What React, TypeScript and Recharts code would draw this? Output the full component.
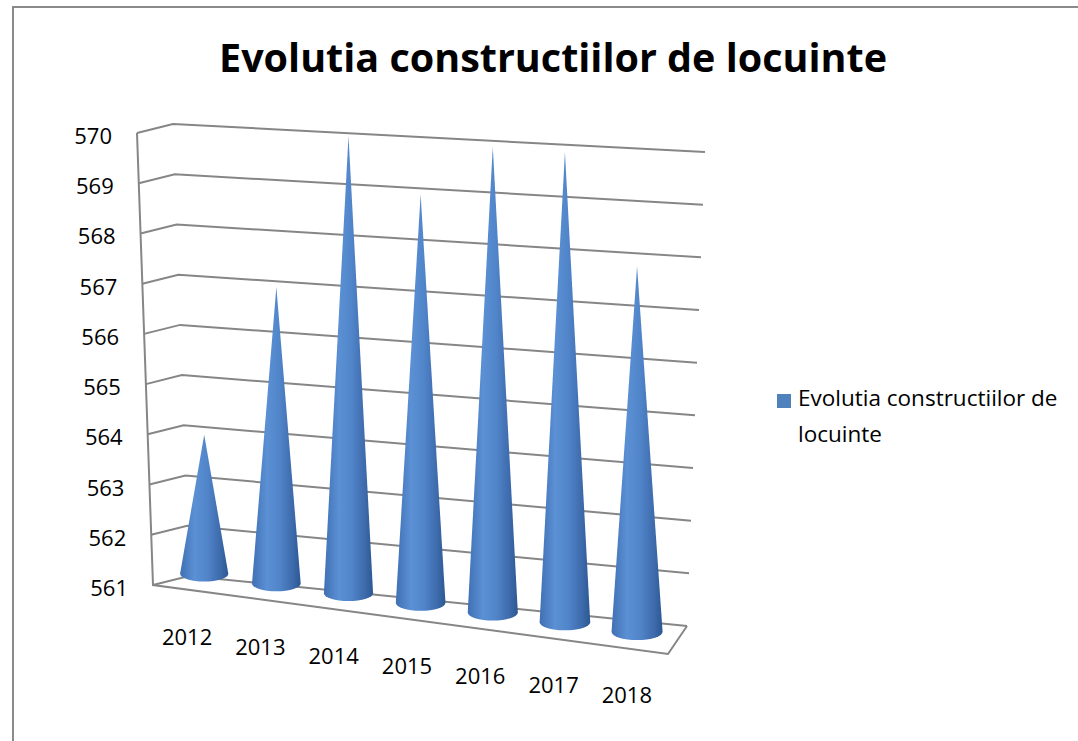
import React from 'react';
import { BarChart, Bar, XAxis, YAxis, CartesianGrid } from 'recharts';

// ---- data ----
const categories = ['2012', '2013', '2014', '2015', '2016', '2017', '2018'];
const values = [563.7, 566.7, 569.7, 568.7, 569.7, 569.7, 567.7];
const yTicks = [561, 562, 563, 564, 565, 566, 567, 568, 569, 570];
const seriesName = 'Evolutia constructiilor de locuinte';
const chartTitle = 'Evolutia constructiilor de locuinte';

const data = categories.map((c, i) => ({ year: c, value: values[i] }));

// ---- layout / style constants ----
const W = 1078;
const H = 741;
const PLOT_LEFT = 168;
const PLOT_RIGHT = 673;
const PLOT_TOP = 133;
const PLOT_BOTTOM = 585;
const YAXIS_W = 60;
const XAXIS_H = 60;
const EDGE_X_TOP = 137;
const EDGE_X_BOTTOM = 153;
const SIDE_DX = 36;
const SIDE_DY = -9;
const RIGHT_X_TOP = 705;
const RIGHT_X_BOTTOM = 687;
const RIGHT_Y_TOP = 152;
const RIGHT_Y_BOTTOM = 626;
const FLOOR_FRONT_RIGHT = { x: 668, y: 654 };
const FLOOR_SLOPE = 0.134;
const BASE_RISE = 18;
const GRID = '#868686';
const FONT = '"Open Sans", Lato, sans-serif';
const BLUE = '#4f81bd';

const persp = (cx: number) => 1.019 + (cx - EDGE_X_BOTTOM) * 0.000139;
const baseY = (cx: number) => PLOT_BOTTOM - BASE_RISE + (cx - EDGE_X_BOTTOM) * FLOOR_SLOPE;
const edgeX = (y: number) =>
  EDGE_X_TOP + ((y - PLOT_TOP) / (PLOT_BOTTOM - PLOT_TOP)) * (EDGE_X_BOTTOM - EDGE_X_TOP);

const Cone = (props: any) => {
  const { x, width, height, index } = props;
  if (x == null || height == null) return null;
  const cx = x + width / 2;
  const k = persp(cx);
  const by = baseY(cx);
  const ty = by - height * k;
  const rx = 23.5 * k;
  const ry = 7.5 * k;
  const id = `cone-grad-${index}`;
  const d = `M${cx - rx},${by} L${cx},${ty} L${cx + rx},${by} A${rx},${ry} 0 0 1 ${cx - rx},${by} Z`;
  return (
    <g>
      <defs>
        <linearGradient id={id} x1="0" y1="0" x2="1" y2="0">
          <stop offset="0%" stopColor="#3f70b3" />
          <stop offset="30%" stopColor="#5b90d4" />
          <stop offset="55%" stopColor="#5286cb" />
          <stop offset="82%" stopColor="#3e6cad" />
          <stop offset="100%" stopColor="#2c5893" />
        </linearGradient>
      </defs>
      <path d={d} fill={`url(#${id})`} />
    </g>
  );
};

const renderHLine = (p: any) => {
  const y = p.y1;
  const t = (y - PLOT_TOP) / (PLOT_BOTTOM - PLOT_TOP);
  const fx = edgeX(y);
  const rxx = RIGHT_X_TOP + t * (RIGHT_X_BOTTOM - RIGHT_X_TOP);
  const ryy = RIGHT_Y_TOP + t * (RIGHT_Y_BOTTOM - RIGHT_Y_TOP);
  const d = `M${fx},${y} L${fx + SIDE_DX},${y + SIDE_DY} L${rxx},${ryy}`;
  const isBottom = Math.abs(y - PLOT_BOTTOM) < 1;
  return (
    <g key={p.key}>
      <path d={d} fill="none" stroke={GRID} strokeWidth={2} />
      {isBottom && (
        <path
          d={`M${EDGE_X_TOP},${PLOT_TOP} L${EDGE_X_BOTTOM},${PLOT_BOTTOM} L${FLOOR_FRONT_RIGHT.x},${FLOOR_FRONT_RIGHT.y} L${RIGHT_X_BOTTOM},${RIGHT_Y_BOTTOM}`}
          fill="none"
          stroke={GRID}
          strokeWidth={2}
        />
      )}
    </g>
  );
};

const YTick = (props: any) => {
  const { y, payload } = props;
  return (
    <text
      x={edgeX(y) - 25}
      y={y + 2}
      textAnchor="end"
      dominantBaseline="central"
      fontFamily={FONT}
      fontSize={22}
      fill="#000"
    >
      {payload.value}
    </text>
  );
};

const XTick = (props: any) => {
  const { x, payload } = props;
  const lx = x - 17 + (x - PLOT_LEFT - 36) * 0.016;
  const ly = baseY(x) + 62;
  return (
    <text
      x={lx}
      y={ly}
      textAnchor="middle"
      dominantBaseline="central"
      fontFamily={FONT}
      fontSize={22}
      fill="#000"
    >
      {payload.value}
    </text>
  );
};

export default function App() {
  return (
    <div
      style={{
        position: 'absolute',
        left: 0,
        top: 0,
        width: W,
        height: H,
        overflow: 'hidden',
        background: '#fff',
        fontFamily: FONT,
      }}
    >
      <div
        style={{
          position: 'absolute',
          left: 12,
          top: 6,
          width: 1120,
          height: 800,
          border: '2px solid #8a8a8a',
          boxSizing: 'border-box',
        }}
      />
      <div
        style={{
          position: 'absolute',
          left: 0,
          top: 37,
          width: 1106,
          textAlign: 'center',
          fontWeight: 700,
          fontSize: 39.5,
          lineHeight: '40px',
          color: '#000',
          whiteSpace: 'nowrap',
        }}
      >
        {chartTitle}
      </div>
      <div style={{ position: 'absolute', left: 0, top: 0 }}>
        <BarChart
          width={W}
          height={H}
          data={data}
          margin={{
            top: PLOT_TOP,
            right: W - PLOT_RIGHT,
            bottom: H - PLOT_BOTTOM - XAXIS_H,
            left: PLOT_LEFT - YAXIS_W,
          }}
        >
          <CartesianGrid horizontal={renderHLine} vertical={false} fill="none" />
          <XAxis
            dataKey="year"
            height={XAXIS_H}
            axisLine={false}
            tickLine={false}
            tick={<XTick />}
            interval={0}
          />
          <YAxis
            width={YAXIS_W}
            domain={[561, 570]}
            ticks={yTicks}
            interval={0}
            axisLine={false}
            tickLine={false}
            tick={<YTick />}
          />
          <Bar dataKey="value" name={seriesName} shape={<Cone />} isAnimationActive={false} />
        </BarChart>
      </div>
      <div
        style={{
          position: 'absolute',
          left: 777,
          top: 394,
          width: 14,
          height: 14,
          background: BLUE,
        }}
      />
      <div
        style={{
          position: 'absolute',
          left: 798,
          top: 380,
          width: 280,
          fontSize: 22.5,
          lineHeight: '36px',
          color: '#000',
          whiteSpace: 'nowrap',
        }}
      >
        <div>Evolutia constructiilor de</div>
        <div>locuinte</div>
      </div>
    </div>
  );
}
